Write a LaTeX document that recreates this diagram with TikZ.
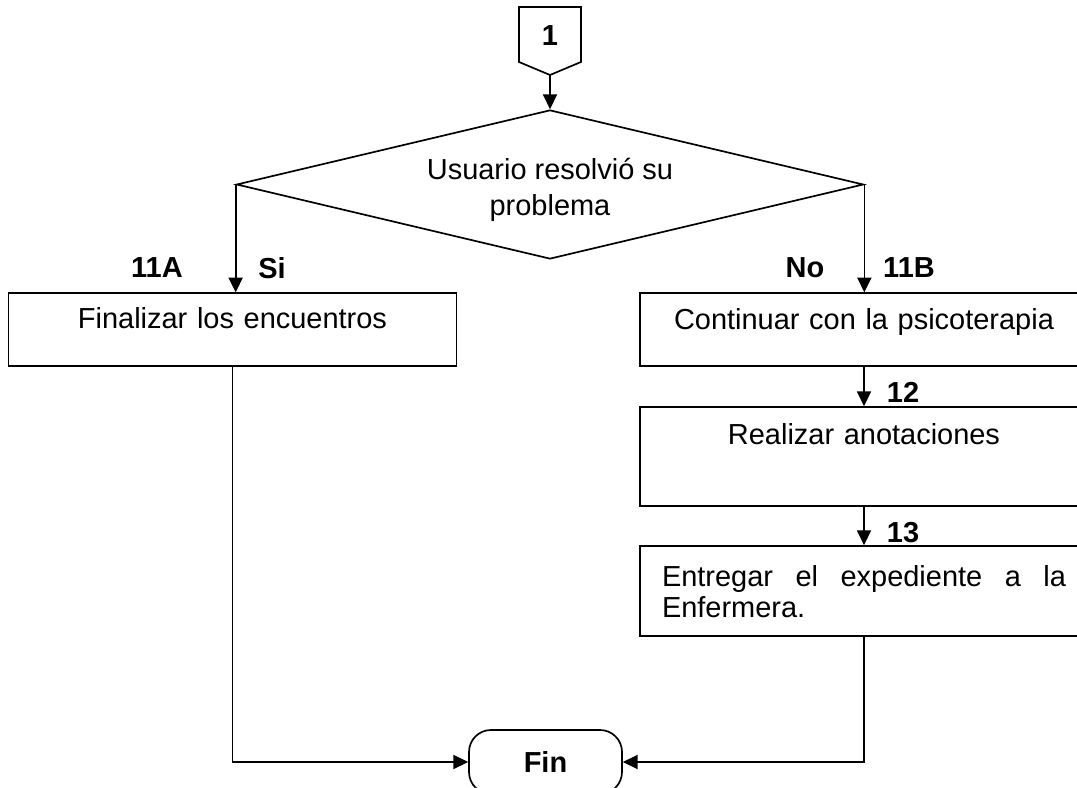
\documentclass[tikz,border=0pt]{standalone}
\usepackage{fontspec}
\setmainfont{Liberation Sans}
\usetikzlibrary{arrows.meta, shapes.geometric}
\newcommand{\flowfont}{\fontsize{20.6}{21.6}\selectfont}

\begin{document}
\begin{tikzpicture}[
    line width=1.2pt,
    arr/.style={-{Triangle[length=10.5pt,width=10pt]}},
    procbox/.style={draw, rectangle, inner xsep=0.55cm, inner ysep=0pt,
        text width=10.1cm, align=center, font=\flowfont},
    lbl/.style={font=\flowfont\bfseries}
]

% --- CANVAS ---
\useasboundingbox (0,0) rectangle (26.925,-19.7);
\clip (0,0) rectangle (26.925,-19.7);

% --- OFF-PAGE CONNECTOR ---
\draw (12.975,-0.175) -- (14.525,-0.175) -- (14.525,-1.55)
    -- (13.75,-1.875) -- (12.975,-1.55) -- cycle;
\node[lbl] (conn) at (13.75,-0.9) {1};
\coordinate (conntip) at (13.75,-1.875);

% --- DECISION ---
\node[draw, diamond, aspect=4.2, inner sep=0pt, minimum width=15.675cm,
    minimum height=3.725cm, align=center, font=\flowfont] (dec)
    at (13.75,-4.6125) {\rule{0pt}{0.8cm}Usuario resolvió su\\[3.5pt]problema};

% --- PROCESS BOXES ---
\node[procbox, text height=0.875cm, text depth=0.945cm] (finalizar)
    at (5.8125,-8.24) {Finalizar los encuentros};
\node[procbox, text height=0.9cm, text depth=0.92cm] (continuar)
    at (21.6,-8.24) {Continuar con la psicoterapia};
\node[procbox, text height=0.95cm, text depth=1.525cm] (anotar)
    at (21.6,-11.4125) {Realizar anotaciones};
\node[procbox, align=justify, text height=1.025cm, text depth=1.225cm] (entregar)
    at (21.6,-14.775) {Entregar el expediente a la\linebreak Enfermera.};

% --- TERMINAL ---
\node[draw, rounded corners=0.55cm, minimum width=3.825cm, minimum height=1.6cm,
    inner sep=0pt, font=\flowfont\bfseries] (fin) at (13.6375,-19.05) {Fin};

% --- LABELS ---
\node[lbl] (l11a) at (3.925,-6.7) {11A};
\node[lbl] (lsi) at (6.8,-6.7) {Si};
\node[lbl] (lno) at (20.125,-6.7) {No};
\node[lbl] (l11b) at (22.725,-6.7) {11B};
\node[lbl] (l12) at (22.575,-9.8) {12};
\node[lbl] (l13) at (22.575,-13.325) {13};

% --- CONNECTORS ---
\draw[arr] (conntip) -- (dec.north);
\draw[arr] (dec.west) -- (dec.west |- finalizar.north);
\draw[arr] (dec.east) -- (dec.east |- continuar.north);
\draw[arr] (continuar.south) -- (anotar.north);
\draw[arr] (anotar.south) -- (entregar.north);
\draw[arr] (finalizar.south) |- (fin.west);
\draw[arr] (entregar.south) |- (fin.east);

\end{tikzpicture}
\end{document}
